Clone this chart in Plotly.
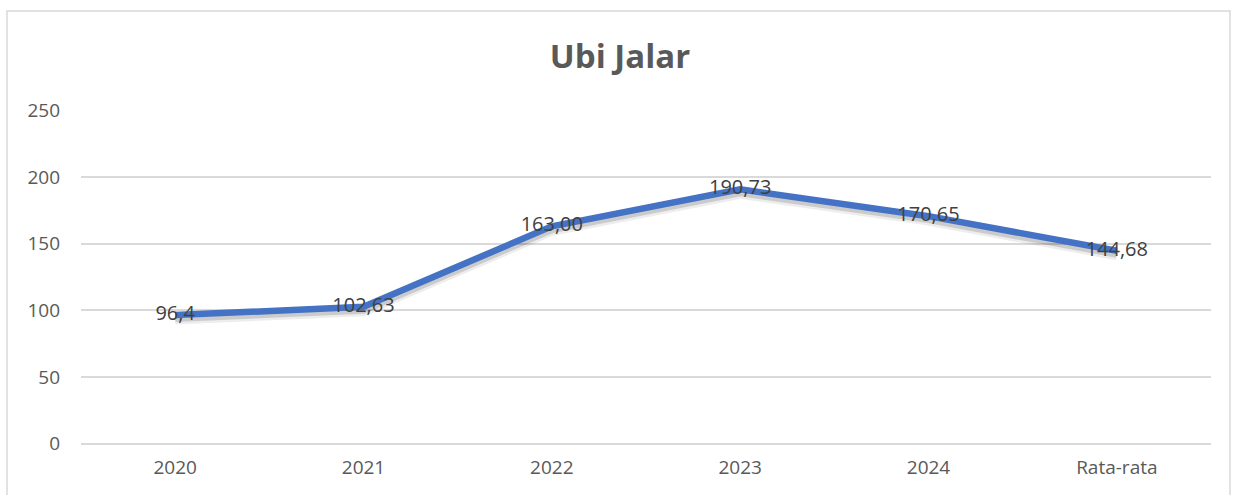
import plotly.graph_objects as go

categories = ["2020", "2021", "2022", "2023", "2024", "Rata-rata"]
values = [96.4, 102.63, 163.00, 190.73, 170.65, 144.68]
labels = ["96,4", "102,63", "163,00", "190,73", "170,65", "144,68"]
y_ticks = [0, 50, 100, 150, 200, 250]
title = "Ubi Jalar"

FONT = "Open Sans, Noto Sans, sans-serif"
Y0, Y1 = -0.3, 250.3
SHIFT = 2.6  # shadow offset in axis units (~3.5 px)

fig = go.Figure()
# invisible anchor trace on the main axes (keeps grid & ticks drawn)
fig.add_trace(go.Scatter(
    x=categories, y=values, mode="lines",
    line=dict(color="rgba(0,0,0,0)", width=0),
    hoverinfo="skip", showlegend=False,
))
# soft shadow under the line (drawn on an overlaid, slightly shifted axis)
fig.add_trace(go.Scatter(
    x=categories, y=values, mode="lines", yaxis="y2",
    line=dict(color="rgba(0,0,0,0.07)", width=12),
    hoverinfo="skip", showlegend=False,
))
fig.add_trace(go.Scatter(
    x=categories, y=values, mode="lines", yaxis="y2",
    line=dict(color="rgba(0,0,0,0.14)", width=7),
    hoverinfo="skip", showlegend=False,
))
fig.add_trace(go.Scatter(
    x=categories, y=values, mode="lines+text", yaxis="y3",
    line=dict(color="#4472C4", width=6.5),
    text=labels, textposition="middle center",
    textfont=dict(family=FONT, size=20, color="#404040"),
    showlegend=False,
))

fig.update_layout(
    width=1240, height=495,
    margin=dict(l=81, r=29, t=110, b=51),
    paper_bgcolor="white", plot_bgcolor="white",
    title=dict(text="<b>" + title + "</b>", x=0.5, xanchor="center",
               y=1 - 56 / 495, yanchor="middle",
               font=dict(family=FONT, size=33, color="#595959")),
    xaxis=dict(type="category", range=[-0.5, len(categories) - 0.5],
               showgrid=False, zeroline=False, showline=False,
               ticks="", ticklabelstandoff=10,
               tickfont=dict(family=FONT, size=19, color="#595959")),
    yaxis=dict(range=[Y0, Y1], tickvals=y_ticks, showgrid=True,
               gridcolor="#D9D9D9", gridwidth=1.5, zeroline=True,
               zerolinecolor="#D9D9D9", zerolinewidth=1.5, showline=False,
               ticks="", ticklabelstandoff=20,
               tickfont=dict(family=FONT, size=19, color="#595959")),
    yaxis2=dict(range=[Y0 + SHIFT, Y1 + SHIFT], overlaying="y", visible=False),
    yaxis3=dict(range=[Y0, Y1], overlaying="y", visible=False),
    shapes=[dict(type="rect", xref="paper", yref="paper",
                 x0=(7 - 81) / 1130, x1=(1230 - 81) / 1130,
                 y0=-0.3, y1=1 + (110 - 11) / 334,
                 line=dict(color="#D9D9D9", width=1.5), layer="below")],
)

fig.write_html("out.html", config={"displayModeBar": False},
               post_script="document.body.style.margin='0';")
